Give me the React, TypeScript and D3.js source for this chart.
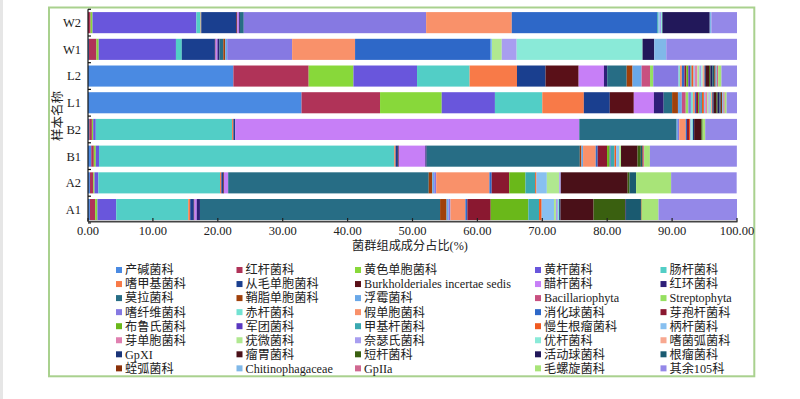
import React from "react";
import * as d3 from "d3";

const categories = [
  "产碱菌科", "红杆菌科", "黄色单胞菌科", "黄杆菌科", "肠杆菌科",
  "嗜甲基菌科", "从毛单胞菌科", "Burkholderiales incertae sedis", "醋杆菌科", "红环菌科",
  "莫拉菌科", "鞘脂单胞菌科", "浮霉菌科", "Bacillariophyta", "Streptophyta",
  "嗜纤维菌科", "赤杆菌科", "假单胞菌科", "消化球菌科", "芽孢杆菌科",
  "布鲁氏菌科", "军团菌科", "甲基杆菌科", "慢生根瘤菌科", "柄杆菌科",
  "芽单胞菌科", "疣微菌科", "奈瑟氏菌科", "优杆菌科", "嗜菌弧菌科",
  "GpXI", "瘤胃菌科", "短杆菌科", "活动球菌科", "根瘤菌科",
  "蛭弧菌科", "Chitinophagaceae", "GpIIa", "毛螺旋菌科", "其余105科",
];

const colors = [
  "#4a8ae2", "#b03358", "#88d83a", "#6956dc", "#52cec6",
  "#f87a48", "#1a3f8f", "#5a1018", "#c77ff7", "#2e1f78",
  "#276d85", "#a0400a", "#6aa8e8", "#c85080", "#95e060",
  "#8679e2", "#72e2d2", "#f9916a", "#2e68c8", "#8a1830",
  "#6ab81a", "#5a38c0", "#3aa8b0", "#f05a20", "#88c0f0",
  "#e080b0", "#b0e890", "#a89ef0", "#8aead8", "#f8a890",
  "#1a3478", "#4a1018", "#3a6010", "#22185a", "#1a5a70",
  "#8a3008", "#80b8e8", "#d06890", "#a8e478", "#9488e8",
];

const samples = ["W2", "W1", "L2", "L1", "B2", "B1", "A2", "A1"];

const A1 = [0.3, 0.8, 0.35, 2.9, 11.1, 0.3, 0.55, 0.1, 0.35, 0.5, 37.0, 1.0, 0.3, 0, 0, 0.3, 0, 2.3, 0.3, 3.6, 5.8, 0, 1.65, 0.4, 1.9, 0, 0.3, 0.3, 0.2, 0, 0.2, 5.1, 4.9, 0.1, 2.3, 0.1, 0, 0, 2.6, 12.1];
const A2 = [0.3, 0.5, 0.2, 0.6, 18.75, 0.2, 0.3, 0.1, 0.65, 0, 30.9, 0.55, 0.3, 0, 0, 0.3, 0, 8.2, 0.35, 2.7, 2.5, 0, 1.5, 0.2, 1.6, 0, 1.9, 0.25, 0, 0, 0, 10.3, 0.3, 0, 1.0, 0, 0, 0, 5.4, 10.1];
const B1 = [0.5, 0.4, 0.3, 0.5, 45.5, 0.2, 0.35, 0.13, 4.1, 0.2, 23.6, 0.25, 0.25, 0, 0, 0, 0, 1.95, 0.3, 1.45, 0.4, 0.15, 0.6, 0.25, 0.5, 0, 0.25, 0, 0, 0, 0, 2.55, 0.5, 0, 0.25, 0.1, 0, 0.15, 0.9, 13.4];
const B2 = [0.2, 0.4, 0.2, 0.4, 21.0, 0.2, 0.3, 0, 53.0, 0, 15.0, 0, 0.2, 0, 0, 0.2, 0, 1.0, 0.2, 0.3, 0, 0, 0, 0.2, 0.2, 0, 0, 0, 0.2, 0, 0.2, 1.1, 0.2, 0, 0, 0, 0, 0, 0.4, 4.9];
const L1 = [32.9, 12.1, 9.5, 8.2, 7.3, 6.4, 4.0, 3.7, 3.1, 1.5, 1.3, 0.9, 0.6, 0.6, 0.4, 0.4, 0.3, 0.3, 0.2, 0.3, 0.2, 0.2, 0.2, 0.3, 0.2, 0.3, 0.2, 0.2, 0.2, 0.2, 0.2, 0.4, 0.2, 0.3, 0.2, 0.2, 0.2, 0.2, 0.3, 1.6];
const L2 = [22.4, 11.6, 6.9, 9.8, 8.1, 7.3, 4.4, 5.1, 3.9, 0.5, 3.0, 0.9, 1.4, 1.3, 0.5, 3.9, 0.2, 0.3, 0.4, 0.3, 0.3, 0.3, 0.2, 0.3, 0.2, 0.4, 0.3, 0.3, 0.2, 0.3, 0.2, 0.5, 0.2, 0.3, 0.3, 0.2, 0.2, 0.2, 0.5, 2.4];
const W1 = [0.15, 1.15, 0.35, 11.9, 0.9, 0, 5.1, 0.1, 0.3, 0.3, 0.6, 0.3, 0.3, 0, 0, 10.0, 0, 9.7, 20.9, 0, 0, 0, 0, 0, 0.2, 0, 1.5, 2.3, 19.4, 0, 0, 0, 0, 1.8, 0, 0, 1.85, 0, 0, 10.9];
const W2 = [0, 0.4, 0.3, 16.0, 0.65, 0.1, 5.4, 0.15, 0.25, 0.15, 0.6, 0, 0, 0, 0, 28.1, 0, 13.2, 22.4, 0, 0, 0, 0.2, 0, 0.2, 0, 0, 0.2, 0.2, 0, 0, 0, 0, 7.3, 0, 0, 0.25, 0, 0, 4.0];

const xTicks = [0, 10, 20, 30, 40, 50, 60, 70, 80, 90, 100];
const xTitle = "菌群组成成分占比(%)";
const yTitle = "样本名称";

const legendCols = [116, 236.5, 355, 535, 660.5];

const FONT = "'Liberation Serif', 'Noto Sans CJK SC', serif";

export default function App() {
  const rows: Record<string, number[]> = { A1, A2, B1, B2, L1, L2, W1, W2 };
  const table = samples.map((s) => {
    const o: any = { sample: s };
    rows[s].forEach((v, i) => (o["k" + i] = v));
    return o;
  });
  const keys = categories.map((_, i) => "k" + i);
  const series = d3.stack().keys(keys)(table as any);

  const x = d3.scaleLinear().domain([0, 100]).range([88, 737]);
  const y = d3
    .scaleBand<string>()
    .domain(samples)
    .range([9.3, 222.9])
    .paddingInner(0.21)
    .paddingOuter(0.105);
  const gap = (y.step() - y.bandwidth()) / 2;
  const bounds = samples.map((s) => (y(s) as number) - gap).concat([222.9]);
  const fmt = d3.format(".2f");
  const axisY = 221.6;

  return (
    <svg
      width={800}
      height={399}
      style={{ position: "absolute", left: 0, top: 0, background: "#fff" }}
      fontFamily={FONT}
    >
      <rect x={0} y={0} width={800} height={399} fill="#fff" />
      <rect x={0} y={0} width={3} height={399} fill="#e6e6e6" />
      <rect x={49} y={7.5} width={705.3} height={368.8} fill="none" stroke="#a9d18e" strokeWidth={2} />

      {series.map((ser, si) => (
        <g key={si} fill={colors[si]}>
          {ser.map((d: any, j: number) =>
            d[1] - d[0] > 0 ? (
              <rect
                key={j}
                x={x(d[0])}
                width={x(Math.min(d[1], 100)) - x(d[0])}
                y={y(d.data.sample)}
                height={y.bandwidth()}
              />
            ) : null
          )}
        </g>
      ))}

      {/* y axis */}
      <line x1={88} x2={88} y1={9.3} y2={axisY} stroke="#111" strokeWidth={1.2} />
      {bounds.map((b, i) => (
        <line key={i} x1={88} x2={91} y1={b} y2={b} stroke="#111" strokeWidth={1.2} />
      ))}
      {samples.map((s) => (
        <text
          key={s}
          x={81}
          y={(y(s) as number) + y.bandwidth() / 2}
          dy="0.35em"
          textAnchor="end"
          fontSize={12.5}
          fill="#222"
        >
          {s}
        </text>
      ))}

      {/* x axis */}
      <line x1={88} x2={737.5} y1={axisY} y2={axisY} stroke="#444" strokeWidth={1.8} />
      {xTicks.map((t) => (
        <g key={t}>
          <line x1={x(t)} x2={x(t)} y1={axisY} y2={axisY - 3.5} stroke="#222" strokeWidth={1.2} />
          <text x={x(t)} y={235} textAnchor="middle" fontSize={12.5} fill="#222">
            {fmt(t)}
          </text>
        </g>
      ))}

      <text x={410} y={249.5} textAnchor="middle" fontSize={12.2} fill="#222">
        {xTitle}
      </text>
      <text
        transform="translate(62,116) rotate(-90)"
        textAnchor="middle"
        fontSize={12.5}
        fill="#222"
      >
        {yTitle}
      </text>

      {/* legend */}
      {categories.map((c, i) => {
        const col = i % 5;
        const row = Math.floor(i / 5);
        const lx = legendCols[col];
        const ly = 270 + row * 14.05;
        return (
          <g key={c}>
            <rect x={lx} y={ly - 3} width={6} height={6} fill={colors[i]} />
            <text x={lx + 9} y={ly} dy="0.36em" fontSize={12.2} fill="#222">
              {c}
            </text>
          </g>
        );
      })}
    </svg>
  );
}
